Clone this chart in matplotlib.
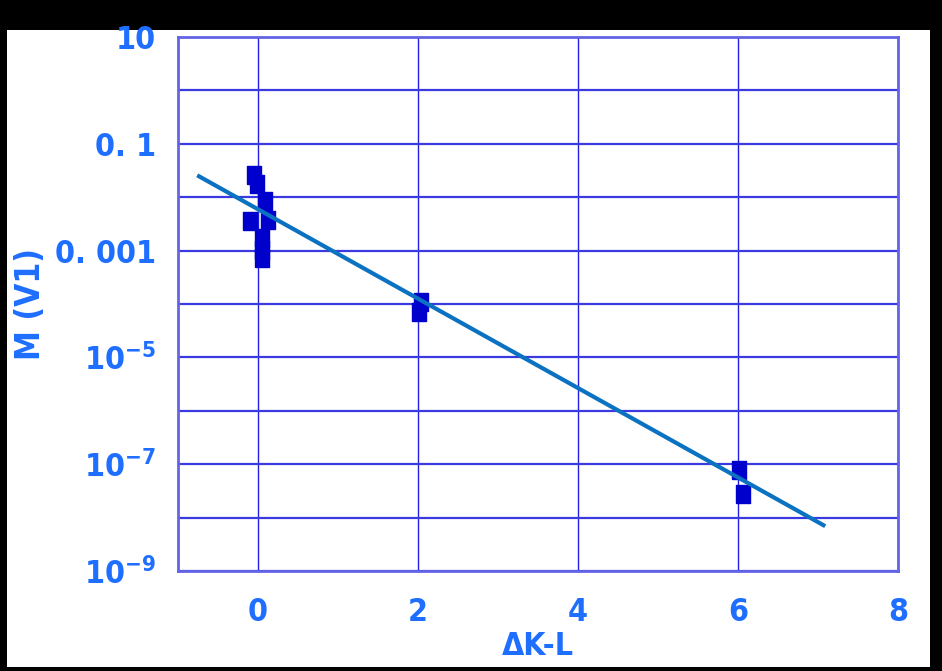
import numpy as np
import matplotlib
matplotlib.use("Agg")
import matplotlib.pyplot as plt
from matplotlib.patches import Rectangle
from matplotlib.ticker import FixedLocator, FuncFormatter

# measured points: delta K-L and M(V1)
dkl = [-0.05, -0.01, 0.09, -0.10, 0.12, 0.05, 0.05, 0.05, 2.04, 2.01, 6.01, 6.06]
log_m = [-1.58, -1.75, -2.07, -2.45, -2.43, -2.76, -2.99, -3.14, -3.96, -4.15, -7.11, -7.56]
m_v1 = [10 ** v for v in log_m]

# straight-line fit in log space
fit_slope = -0.837
fit_intercept = -2.226
fit_x = [-0.76, 7.09]

x_ticks = [0, 2, 4, 6, 8]
y_decades = list(range(-9, 2))
y_labels = {1: "10", -1: "0. 1", -3: "0. 001",
            -5: r"$\mathregular{10^{-5}}$", -7: r"$\mathregular{10^{-7}}$",
            -9: r"$\mathregular{10^{-9}}$"}

txt_blue = "#1e6eff"
plt.rcParams["font.family"] = ["DejaVu Sans"]
plt.rcParams["font.stretch"] = "condensed"
plt.rcParams["font.weight"] = "bold"
plt.rcParams["mathtext.fontset"] = "custom"
plt.rcParams["mathtext.rm"] = "DejaVu Sans:bold"

fig = plt.figure(figsize=(9.42, 6.71), dpi=100, facecolor="black")
fig.patches.append(Rectangle((7 / 942, 4 / 671), 923 / 942, 637 / 671,
                             transform=fig.transFigure, facecolor="white",
                             edgecolor="none", zorder=-5))
ax = fig.add_axes([178 / 942, 1 - 571 / 671, 720 / 942, 534 / 671])
ax.set_facecolor("white")

ax.set_yscale("log")
ax.set_xlim(-1, 8)
ax.set_ylim(1e-9, 10)

ax.yaxis.set_major_locator(FixedLocator([10.0 ** d for d in y_decades]))
ax.yaxis.set_minor_locator(FixedLocator([]))
ax.yaxis.set_major_formatter(FuncFormatter(
    lambda v, pos: y_labels.get(int(round(np.log10(v))), "")))
ax.xaxis.set_major_locator(FixedLocator(x_ticks))

ax.grid(True, axis="x", color="#2020e0", linewidth=1.0)
ax.grid(True, axis="y", color="#3a3ae0", linewidth=1.6)
ax.set_axisbelow(True)
for s in ax.spines.values():
    s.set_color("#6464e6")
    s.set_linewidth(2)

ax.tick_params(length=0, labelcolor=txt_blue, labelsize=23)
ax.tick_params(axis="y", pad=16)
ax.tick_params(axis="x", pad=19)

rect = [(-0.38, -0.5), (0.38, -0.5), (0.38, 0.5), (-0.38, 0.5), (-0.38, -0.5)]
ax.plot(dkl, m_v1, linestyle="none", marker=rect, markersize=12.5,
        color="#0000cc", zorder=3)

line_y = [10 ** (fit_intercept + fit_slope * x) for x in fit_x]
ax.plot(fit_x, line_y, color="#0a72c0", linewidth=3, zorder=4,
        solid_capstyle="butt")

ax.set_xlabel("ΔK-L", color=txt_blue, fontsize=23, fontweight="bold")
ax.xaxis.set_label_coords(0.5, -0.112)
ax.set_ylabel("M (V1)", color=txt_blue, fontsize=24, fontweight="bold")
ax.yaxis.set_label_coords(-0.182, 0.5)

fig.savefig("out.png", dpi=100, facecolor=fig.get_facecolor())
